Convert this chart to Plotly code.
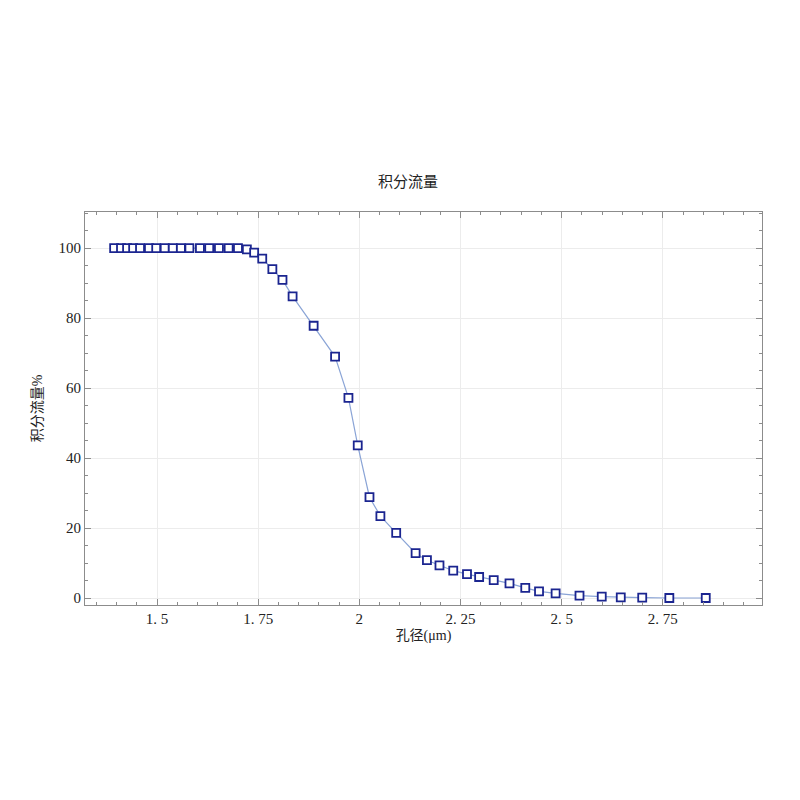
import plotly.graph_objects as go

pore_size = [1.394, 1.411, 1.426, 1.441, 1.458, 1.480, 1.498, 1.519, 1.539, 1.559,
             1.580, 1.606, 1.629, 1.653, 1.677, 1.700, 1.722, 1.740, 1.760, 1.785,
             1.810, 1.835, 1.887, 1.940, 1.973, 1.996, 2.025, 2.052, 2.091, 2.139,
             2.167, 2.198, 2.232, 2.266, 2.296, 2.332, 2.371, 2.410, 2.444, 2.485,
             2.544, 2.599, 2.646, 2.699, 2.766, 2.856]
cum_flow = [100, 100, 100, 100, 100, 100, 100, 100, 100, 100,
            100, 100, 100, 100, 100, 100, 99.6, 98.7, 97.0, 94.0,
            90.9, 86.2, 77.8, 69.0, 57.2, 43.6, 28.8, 23.4, 18.6, 12.8,
            10.8, 9.3, 7.8, 6.8, 6.0, 5.1, 4.2, 2.9, 1.9, 1.3,
            0.7, 0.4, 0.2, 0.1, 0.0, 0.0]

title_text = "积分流量"
x_label = "孔径(μm)"
y_label = "积分流量%"

font_family = "Liberation Serif, Noto Sans CJK SC, serif"

fig = go.Figure()
fig.add_trace(go.Scatter(
    x=pore_size, y=cum_flow, mode="lines+markers",
    line=dict(color="#8aa4d6", width=1.2),
    marker=dict(symbol="square", size=8, color="white",
                line=dict(color="#1b2590", width=1.8)),
    showlegend=False,
))

axis_common = dict(
    showline=True, linecolor="#8c8c8c", linewidth=1, mirror="ticks",
    ticks="inside", ticklen=6, tickcolor="#8c8c8c",
    showgrid=True, gridcolor="#ececec", gridwidth=1,
    zeroline=False,
    tickfont=dict(family=font_family, size=15, color="#222"),
)

fig.update_xaxes(
    **axis_common, range=[1.322, 2.995],
    tickvals=[1.5, 1.75, 2, 2.25, 2.5, 2.75],
    ticktext=["1. 5", "1. 75", "2", "2. 25", "2. 5", "2. 75"],
    minor=dict(dtick=0.05, tick0=1.5, ticks="inside", ticklen=3, tickcolor="#8c8c8c", showgrid=False),
    title=dict(text=x_label, font=dict(family=font_family, size=14, color="#222"), standoff=4),
)
fig.update_yaxes(
    **axis_common, range=[-2, 110.3], tick0=0, dtick=20,
    minor=dict(dtick=5, tick0=0, ticks="inside", ticklen=3, tickcolor="#8c8c8c", showgrid=False),
    title=dict(text=y_label, font=dict(family=font_family, size=14, color="#222"), standoff=12),
)

fig.update_layout(
    width=800, height=800,
    paper_bgcolor="white", plot_bgcolor="white",
    margin=dict(l=77, r=46, t=204, b=203),
    title=dict(text=title_text, x=0.5, xanchor="center", y=1 - 174 / 800, yanchor="middle",
               font=dict(family=font_family, size=15, color="#222")),
)

fig.write_html("out.html")
